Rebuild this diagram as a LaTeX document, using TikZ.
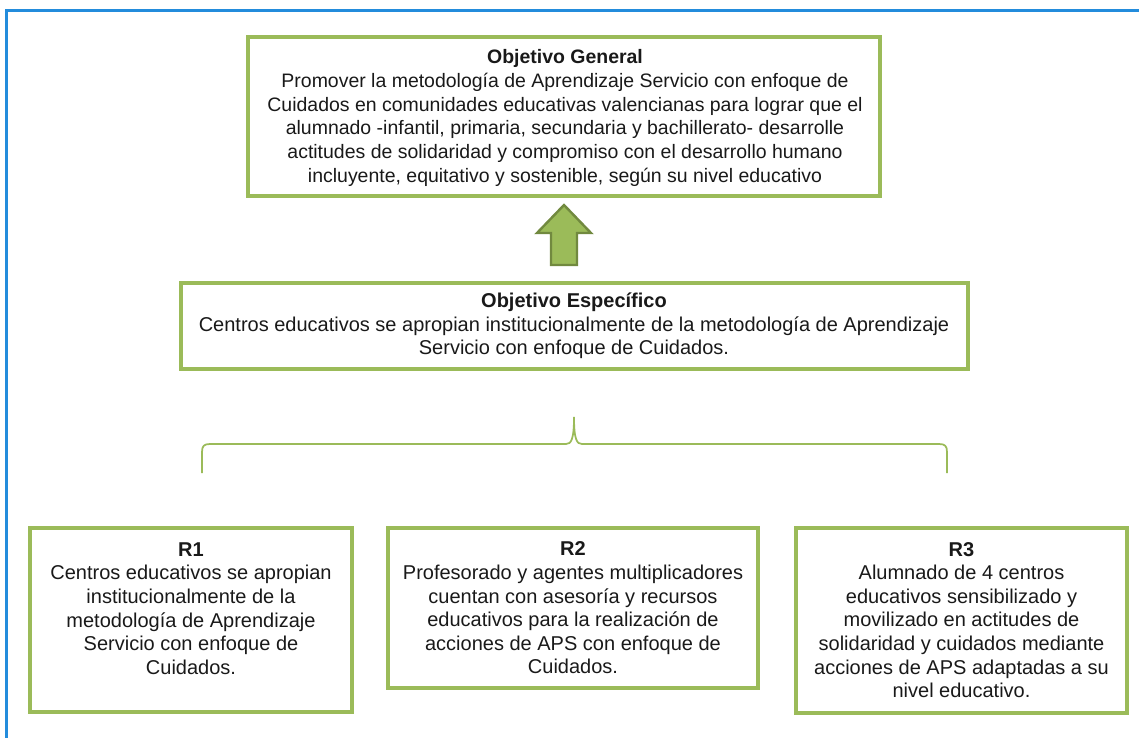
\documentclass[tikz,border=0pt]{standalone}
\usepackage{fontspec}
\setmainfont{Liberation Sans}
\usetikzlibrary{fit}
\definecolor{ogreen}{RGB}{155,187,89}
\definecolor{dgreen}{RGB}{113,137,63}
\definecolor{oblue}{RGB}{35,140,220}
\begin{document}
\begin{tikzpicture}[x=0.75pt,y=-0.75pt,
  box/.style={draw=ogreen, line width=2.5pt, inner sep=0pt},
  txt/.style={align=center, inner sep=0pt, text=black!90, font=\fontsize{15}{17.7}\selectfont},
  bracepath/.style={draw=ogreen, line width=1.3pt},
  arrowshape/.style={fill=ogreen, draw=dgreen, line width=1.8pt, line join=miter}]
\useasboundingbox (0,0) rectangle (1139,738);
% outer frame (only top and left visible)
\coordinate (fbl) at (6.5,740);
\coordinate (ftl) at (6.5,10.5);
\coordinate (ftr) at (1141,10.5);
\draw[oblue, line width=2.3pt] (fbl) -- (ftl) -- (ftr);
% boxes
\node[box, fit={(248,37) (880,196)}] (og) {};
\node[box, fit={(181,283) (968,369)}] (oe) {};
\node[box, fit={(30,528) (352,712)}] (r1) {};
\node[box, fit={(388,528) (758,688)}] (r2) {};
\node[box, fit={(796,528) (1127,713)}] (r3) {};
% texts
\node[txt, font=\fontsize{14.6}{17.8}\selectfont] (ogt) at (565,118) {\textbf{Objetivo General}\\
Promover la metodología de Aprendizaje Servicio con enfoque de\\
Cuidados en comunidades educativas valencianas para lograr que el\\
alumnado -infantil, primaria, secundaria y bachillerato- desarrolle\\
actitudes de solidaridad y compromiso con el desarrollo humano\\
incluyente, equitativo y sostenible, según su nivel educativo};
\node[txt] (oet) at (574,326) {\textbf{Objetivo Específico}\\
Centros educativos se apropian institucionalmente de la metodología de Aprendizaje\\
Servicio con enfoque de Cuidados.};
\node[txt] (r1t) at (191,608.5) {\textbf{R1}\\
Centros educativos se apropian\\
institucionalmente de la\\
metodología de Aprendizaje\\
Servicio con enfoque de\\
Cuidados.};
\node[txt] (r2t) at (573,608) {\textbf{R2}\\
Profesorado y agentes multiplicadores\\
cuentan con asesoría y recursos\\
educativos para la realización de\\
acciones de APS con enfoque de\\
Cuidados.};
\node[txt] (r3t) at (961.5,620) {\textbf{R3}\\
Alumnado de 4 centros\\
educativos sensibilizado y\\
movilizado en actitudes de\\
solidaridad y cuidados mediante\\
acciones de APS adaptadas a su\\
nivel educativo.};
% block arrow
\draw[arrowshape] (564,205) -- (591,233) -- (577,233) -- (577,265) -- (551,265) -- (551,233) -- (537,233) -- cycle;
% brace
\draw[bracepath] (202,473) -- (202,452) .. controls (202,446) and (204,444) .. (210,444)
  -- (566,444) .. controls (571,444) and (574,440) .. (574,417)
  .. controls (574,440) and (577,444) .. (582,444)
  -- (939,444) .. controls (945,444) and (947,446) .. (947,452) -- (947,473);
\end{tikzpicture}
\end{document}
